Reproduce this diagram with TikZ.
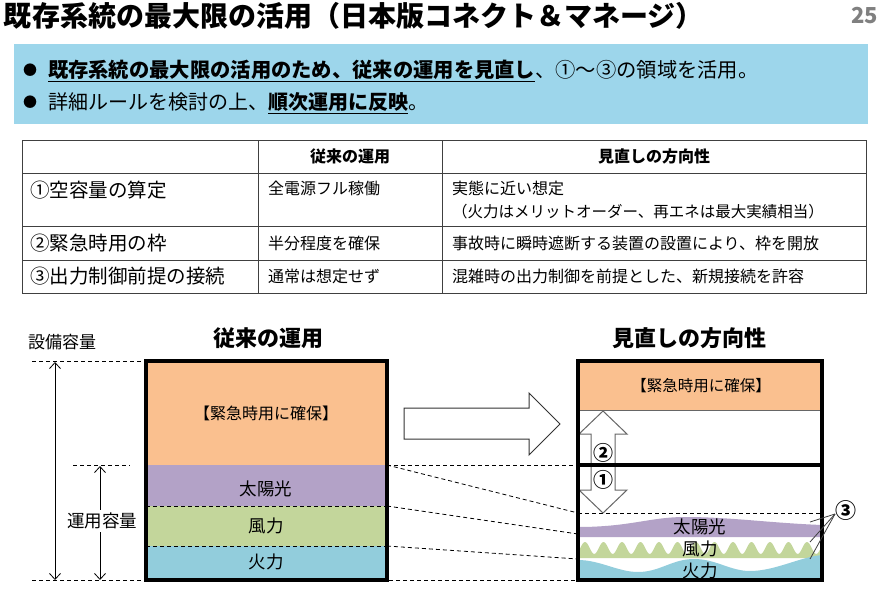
\documentclass[tikz,border=0pt]{standalone}
\usepackage{fontspec}
\setmainfont{Noto Sans CJK JP}
\usetikzlibrary{arrows.meta}

\definecolor{boxblue}{RGB}{157,214,235}
\definecolor{orng}{RGB}{250,192,143}
\definecolor{purp}{RGB}{179,162,199}
\definecolor{grn}{RGB}{195,214,155}
\definecolor{lblue}{RGB}{146,205,220}
\definecolor{pgnum}{RGB}{128,128,128}

\newcommand{\fsz}[1]{\fontsize{#1}{#1}\selectfont}

\begin{document}
\begin{tikzpicture}[x=1pt,y=-1pt,
  txt/.style={inner sep=0pt, outer sep=0pt},
  grid/.style={draw=black!75, line width=1pt},
  dsh/.style={draw=black, line width=0.8pt, dash pattern=on 4pt off 3pt},
  thickbox/.style={draw=black, line width=3.5pt},
  dimarrow/.style={draw=black, line width=0.8pt, {Straight Barb[length=6pt,width=11pt]}-{Straight Barb[length=6pt,width=11pt]}},
  hollow/.style={draw=black!80, line width=1pt, fill=white},
  hollowgray/.style={draw=black!60, line width=1pt, fill=white},
  callout/.style={draw=black!75, line width=0.8pt}]
\useasboundingbox (0,0) rectangle (885,604);
\fill[white] (0,0) rectangle (885,604);

% title
\node[txt, anchor=base west, font=\fsz{28}\bfseries] (title) at (4,26.5) {既存系統の最大限の活用（日本版コネクト＆マネージ）};
\node[txt, anchor=base east, font=\fsz{22}\bfseries, text=pgnum] (page) at (878,24) {25};

% blue box
\fill[boxblue] (14,44) rectangle (868,124);
\node[txt, font=\fsz{14}] (b1) at (30,70) {●};
\node[txt, font=\fsz{14}] (b2) at (30,102) {●};
\node[txt, anchor=base west, font=\fsz{20.3}] (l1) at (48,77.5) {\underline{\bfseries 既存系統の最大限の活用のため、従来の運用を見直し}、①～③の領域を活用。};
\node[txt, anchor=base west, font=\fsz{20}] (l2) at (48,109.5) {詳細ルールを検討の上、\underline{\bfseries 順次運用に反映}。};

% table
\draw[grid] (22,141) rectangle (866,293);
\draw[grid] (258,141) -- (258,293);
\draw[grid] (442,141) -- (442,293);
\draw[grid] (22,174) -- (866,174);
\draw[grid] (22,226) -- (866,226);
\draw[grid] (22,260) -- (866,260);

\node[txt, anchor=base, font=\fsz{16}\bfseries] (h1) at (350,163) {従来の運用};
\node[txt, anchor=base, font=\fsz{16}\bfseries] (h2) at (654,163) {見直しの方向性};

\node[txt, anchor=base west, font=\fsz{19.5}] (r1a) at (30,197) {①空容量の算定};
\node[txt, anchor=base west, font=\fsz{16}] (r1b) at (268,194) {全電源フル稼働};
\node[txt, anchor=base west, font=\fsz{16}] (r1c) at (452,194) {実態に近い想定};
\node[txt, anchor=base west, font=\fsz{15.5}] (r1d) at (452,217) {（火力はメリットオーダー、再エネは最大実績相当）};

\node[txt, anchor=base west, font=\fsz{19.5}] (r2a) at (30,250) {②緊急時用の枠};
\node[txt, anchor=base west, font=\fsz{16}] (r2b) at (268,249) {半分程度を確保};
\node[txt, anchor=base west, font=\fsz{16}] (r2c) at (452,249) {事故時に瞬時遮断する装置の設置により、枠を開放};

\node[txt, anchor=base west, font=\fsz{19.5}] (r3a) at (30,283) {③出力制御前提の接続};
\node[txt, anchor=base west, font=\fsz{16}] (r3b) at (268,282) {通常は想定せず};
\node[txt, anchor=base west, font=\fsz{16}] (r3c) at (452,282) {混雑時の出力制御を前提とした、新規接続を許容};

% lower headings
\node[txt, anchor=base west, font=\fsz{17}] (cap) at (28,348.5) {設備容量};
\node[txt, anchor=base, font=\fsz{22}\bfseries] (lh) at (268,346.5) {従来の運用};
\node[txt, anchor=base, font=\fsz{22}\bfseries] (rh) at (689,346.5) {見直しの方向性};

% coordinates
\coordinate (Ltl) at (146,361);
\coordinate (Lbr) at (387,580);
\coordinate (Rtl) at (578,361);
\coordinate (Rbr) at (822,580);
\coordinate (L465) at (387,465);
\coordinate (L506) at (387,506);
\coordinate (L546) at (387,546);
\coordinate (R465) at (578,465);
\coordinate (R513) at (578,513);
\coordinate (R513e) at (822,513);
\coordinate (R534) at (578,534);
\coordinate (R559) at (578,559);
\coordinate (Dtop) at (32,361);
\coordinate (Dmid0) at (73,465);
\coordinate (Dmid1) at (130,465);
\coordinate (Dbot) at (32,580);
\coordinate (Rbl) at (578,580);

% left box fills
\fill[orng] (146,361) rectangle (387,465);
\fill[purp] (146,465) rectangle (387,506);
\fill[grn] (146,506) rectangle (387,546);
\fill[lblue] (146,546) rectangle (387,580);
\draw[dsh] (146,506) -- (L506);
\draw[dsh] (146,546) -- (L546);

\node[txt, anchor=base, font=\fsz{16}] (lres) at (266,419) {【緊急時用に確保】};
\node[txt, anchor=base, font=\fsz{17.5}] (lsun) at (266,495.5) {太陽光};
\node[txt, anchor=base, font=\fsz{17.5}] (lwind) at (266,532.5) {風力};
\node[txt, anchor=base, font=\fsz{17.5}] (lfire) at (266,568.5) {火力};

% dashed guides
\draw[dsh] (Dtop) -- (Ltl);
\draw[dsh] (Dmid0) -- (Dmid1);
\draw[dsh] (Dbot) -- (Rbl);
\draw[dsh] (L465) -- (R465);
\draw[dsh] (L465) -- (R513);
\draw[dsh] (L506) -- (R534);
\draw[dsh] (L546) -- (R559);

% dimension arrows
\draw[dimarrow] (55,362) -- (55,580);
\draw[dimarrow] (100,466) -- (100,580);
\node[txt, fill=white, inner ysep=3pt, font=\fsz{17.5}] (opcap) at (102,521) {運用容量};

\draw[thickbox] (Ltl) rectangle (Lbr);

% big hollow arrow
\draw[hollow] (404,408) -- (529,408) -- (529,393) -- (560,424) -- (529,455) -- (529,439) -- (404,439) -- cycle;

% right box
\fill[orng] (578,361) rectangle (822,410);
\draw[black!60, line width=0.6pt] (578,410) -- (822,410);
\node[txt, anchor=base, font=\fsz{15.5}] (rres) at (701,391) {【緊急時用に確保】};

\begin{scope}
\clip (580,361) rectangle (820,580);
\fill[purp] (578,527) .. controls (630,527) and (650,517) .. (685,517) .. controls (730,517) and (770,523) .. (822,525) -- (822,537) -- (578,537) -- cycle;
\fill[grn] (566.5,558) -- (566.5,542)
  \foreach \k in {0,...,13} { .. controls ({566.5+18.5*\k+3.5},542) and ({566.5+18.5*\k+6},554) .. ({566.5+18.5*\k+9.25},554) .. controls ({566.5+18.5*\k+12.5},554) and ({566.5+18.5*\k+15},542) .. ({566.5+18.5*\k+18.5},542) }
  -- (825.5,558) -- cycle;
\fill[lblue] (578,560) .. controls (600,560) and (618,572) .. (638,572) .. controls (660,572) and (672,559) .. (694,559) .. controls (716,559) and (730,571) .. (750,571) .. controls (775,571) and (800,557) .. (822,555) -- (822,580) -- (578,580) -- cycle;
\end{scope}

\draw[dsh] (R513) -- (R513e);

\node[txt, anchor=base, font=\fsz{17.5}] (rsun) at (700,533.5) {太陽光};
\node[txt, anchor=base, font=\fsz{17.5}] (rwind) at (700,555.5) {風力};
\node[txt, anchor=base, font=\fsz{17.5}] (rfire) at (700,577.5) {火力};

% double arrow
\draw[hollowgray] (603,411) -- (627,434) -- (615,434) -- (615,490) -- (627,490) -- (603,513) -- (579,490) -- (591,490) -- (591,434) -- (579,434) -- cycle;
\draw[black, line width=3.5pt] (R465) -- (822,465);
\node[txt, fill=white, font=\fsz{20}\bfseries] (n2) at (603,453) {②};
\node[txt, fill=white, font=\fsz{20}\bfseries] (n1) at (603,480) {①};

\draw[thickbox] (Rtl) rectangle (Rbr);

% callout 3
\node[txt, font=\fsz{21}\bfseries] (n3) at (846,511) {③};
\coordinate (c3a) at (810,522);
\coordinate (c3b) at (810,542);
\coordinate (c3c) at (810,559);
\coordinate (c3o) at (835,514);
\draw[callout] (c3o) -- (c3a);
\draw[callout] (c3o) -- (c3b);
\draw[callout] (c3o) -- (c3c);
\end{tikzpicture}
\end{document}
